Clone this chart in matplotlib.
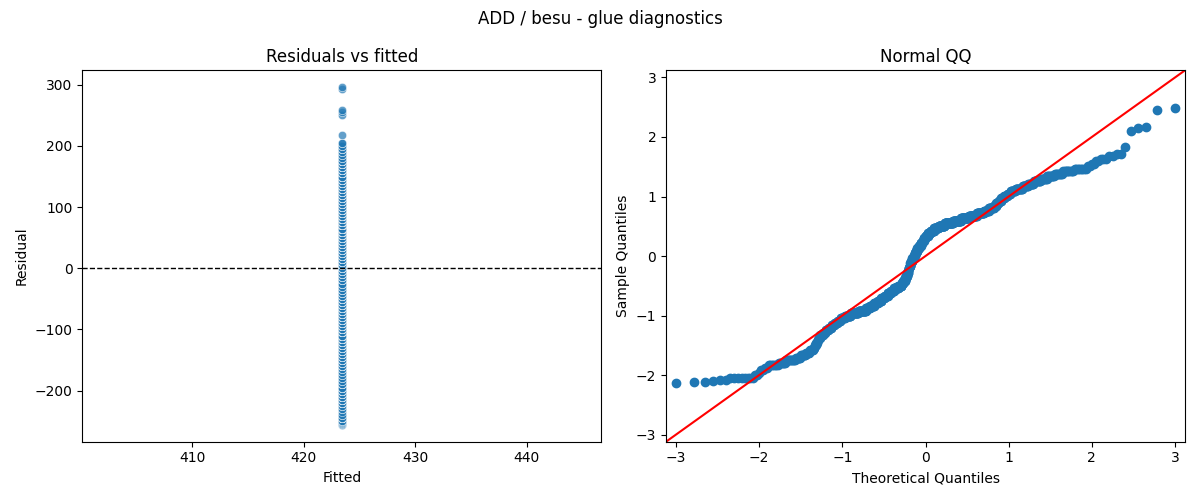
"""
Residual diagnostics for the ADD / besu glue timings: residuals vs fitted
and a normal QQ plot of the standardised residuals.
"""

from statistics import NormalDist

import matplotlib

matplotlib.use("Agg")
import matplotlib.pyplot as plt
import numpy as np
import seaborn as sns


FITTED_VALUE = 423.4

# residual levels (ms) and how many samples sit at each level
RESIDUAL_LEVELS = [
    -256, -254, -253, -252, -250, -245, -240, -235, -230, -225,
    -220, -215, -210, -205, -200, -195, -190, -185, -180, -175,
    -170, -165, -160, -155, -150, -145, -140, -135, -130, -125,
    -120, -115, -110, -105, -100, -95, -90, -85, -80, -75,
    -70, -65, -60, -55, -50, -45, -40, -35, -30, -25,
    -20, -15, -10, -5, 0, 5, 10, 15, 20, 25,
    30, 35, 40, 45, 50, 55, 60, 65, 70, 75,
    80, 85, 90, 95, 100, 105, 110, 115, 120, 125,
    130, 135, 140, 145, 150, 155, 160, 165, 170, 175,
    180, 185, 190, 195, 200, 205, 218, 251, 256, 258,
    293, 296,
]
LEVEL_COUNTS = [
    1, 1, 1, 1, 2, 8, 2, 1, 2, 2,
    7, 6, 9, 6, 6, 5, 5, 2, 2, 2,
    2, 2, 5, 4, 6, 5, 6, 6, 6, 10,
    13, 19, 20, 11, 12, 11, 11, 10, 10, 10,
    10, 15, 11, 6, 6, 4, 3, 3, 2, 3,
    3, 3, 4, 4, 5, 4, 5, 6, 6, 6,
    5, 6, 9, 9, 12, 16, 21, 29, 26, 25,
    24, 21, 13, 13, 6, 6, 6, 7, 7, 7,
    10, 13, 10, 9, 10, 8, 9, 8, 9, 8,
    2, 2, 2, 3, 2, 2, 1, 1, 1, 1,
    1, 1,
]

QQ_LIMIT = 3.12


def qq_points(residuals):
    """Theoretical vs standardised sample quantiles, plotting pos i/(n+1)."""
    sample = np.sort(residuals)
    sample = (sample - sample.mean()) / sample.std()
    n = len(sample)
    dist = NormalDist()
    theoretical = np.array(
        [dist.inv_cdf(i / (n + 1)) for i in range(1, n + 1)]
    )
    return theoretical, sample


def main():
    residuals = np.repeat(
        np.array(RESIDUAL_LEVELS, dtype=float), LEVEL_COUNTS
    )
    fitted = np.full(len(residuals), FITTED_VALUE)

    fig, (ax_res, ax_qq) = plt.subplots(1, 2, figsize=(12, 5))

    sns.scatterplot(x=fitted, y=residuals, ax=ax_res, alpha=0.7)
    ax_res.axhline(0, color="black", linestyle="--", linewidth=1)
    ax_res.set_xlabel("Fitted")
    ax_res.set_ylabel("Residual")
    ax_res.set_title("Residuals vs fitted")

    theoretical, sample = qq_points(residuals)
    ax_qq.plot(
        theoretical, sample,
        marker="o", linestyle="none",
        markerfacecolor="C0", markeredgecolor="C0",
    )
    ax_qq.plot([-QQ_LIMIT, QQ_LIMIT], [-QQ_LIMIT, QQ_LIMIT], "r-")
    ax_qq.set_xlim(-QQ_LIMIT, QQ_LIMIT)
    ax_qq.set_ylim(-QQ_LIMIT, QQ_LIMIT)
    ax_qq.set_xlabel("Theoretical Quantiles")
    ax_qq.set_ylabel("Sample Quantiles")
    ax_qq.set_title("Normal QQ")

    fig.suptitle("ADD / besu - glue diagnostics")
    plt.tight_layout()
    plt.savefig("out.png", dpi=100)
    plt.close()


if __name__ == "__main__":
    main()
